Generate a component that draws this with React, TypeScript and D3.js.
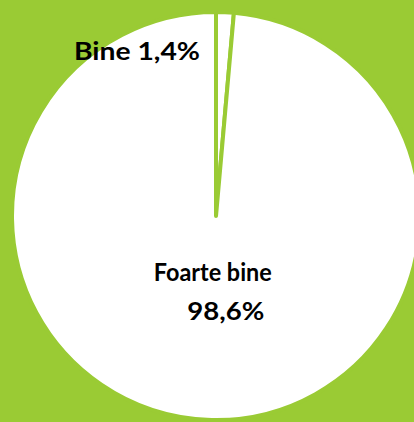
import React from 'react';
import * as d3 from 'd3';

// pie data
const labels = ['Bine', 'Foarte bine'];
const values = [1.4, 98.6];
const valueText = ['1,4%', '98,6%'];

const W = 414;
const H = 422;
const GREEN = '#9acb34';

export default function App() {
  const cx = 216;
  const cy = 216;
  const r = 204;

  const pie = d3.pie<number>().sort(null).value(d => d);
  const arcs = pie(values);
  const arc = d3.arc<d3.PieArcDatum<number>>().innerRadius(0).outerRadius(r);
  // label position inside the big slice
  const labelArc = d3.arc<d3.PieArcDatum<number>>().innerRadius(r * 0.36).outerRadius(r * 0.36);

  const [bx, by] = labelArc.centroid(arcs[1]);

  return (
    <svg width={W} height={H} style={{ position: 'absolute', left: 0, top: 0, display: 'block' }}>
      <rect width={W} height={H} fill={GREEN} />
      <g transform={`translate(${cx},${cy})`}>
        {arcs.map((a, i) => (
          <path key={labels[i]} d={arc(a) || ''} fill="#ffffff" stroke={GREEN} strokeWidth={4} strokeLinejoin="round" />
        ))}
        <g fontFamily="Lato, 'Open Sans', sans-serif" fontWeight="bold" fontSize={25} fill="#000" textAnchor="middle">
          <text x={bx} y={by - 8} textLength={118} lengthAdjust="spacingAndGlyphs">{labels[1]}</text>
          <text x={bx + 13} y={by + 31} textLength={77} lengthAdjust="spacingAndGlyphs">{valueText[1]}</text>
          <text x={-79} y={-156} textLength={126} lengthAdjust="spacingAndGlyphs">{`${labels[0]} ${valueText[0]}`}</text>
        </g>
      </g>
    </svg>
  );
}
